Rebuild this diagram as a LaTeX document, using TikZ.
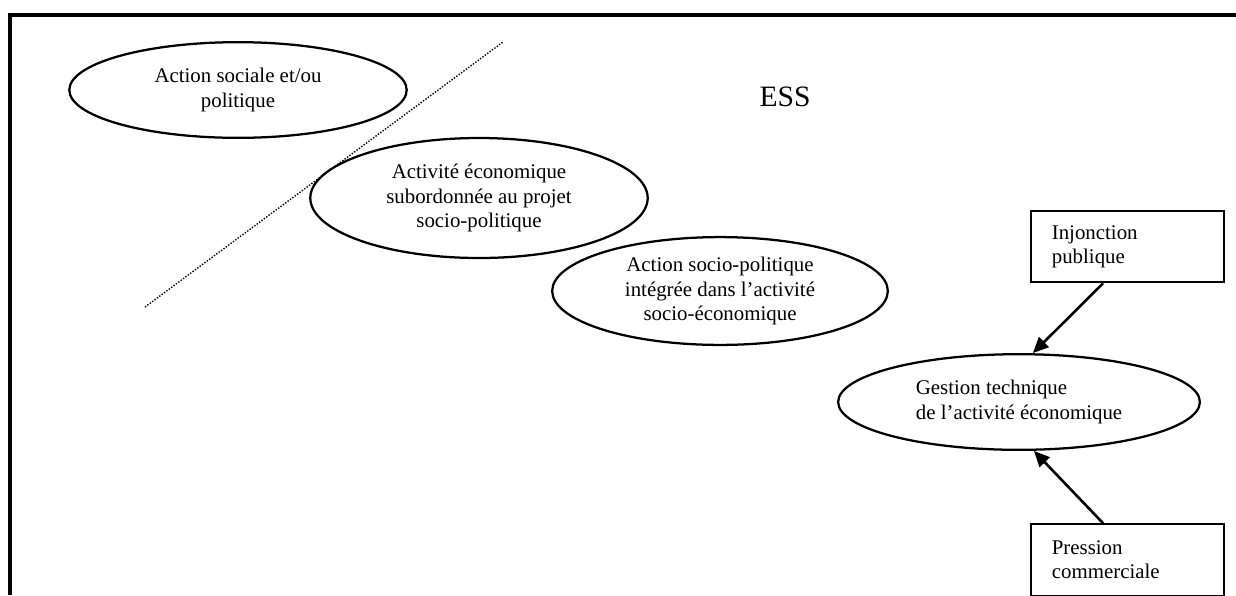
\documentclass[tikz,border=0pt]{standalone}
\usepackage{fontspec}
\setmainfont{Liberation Serif}
\usetikzlibrary{shapes.geometric,arrows.meta}
\tikzstyle{bulle}=[ellipse, draw, line width=1.3pt, align=center, inner sep=0pt]
\tikzstyle{cadre}=[rectangle, draw, line width=1.2pt, align=left, text width=87pt, inner xsep=12pt, minimum height=41pt]
\tikzstyle{fleche}=[-{Triangle[length=9pt,width=8pt]}, line width=1.5pt]

\begin{document}
\begin{tikzpicture}[x=0.575pt, y=-0.575pt, font=\fontsize{12}{14}\selectfont]
\useasboundingbox (0,0) rectangle (1236,595);
% Frame
    \draw[line width=2pt] (10,595) -- (10,15) -- (1236,15);
% Separation
    \coordinate (sepA) at (145,307);
    \coordinate (sepB) at (503,42);
    \draw[line width=0.8pt, dash pattern=on 0.8pt off 0.9pt] (sepA) -- (sepB);
% Title
    \node (ess) at (785,97) {\fontsize{17}{20}\selectfont ESS};
% Steps
    \node[bulle, minimum width=194pt, minimum height=55pt] (action) at (238,90) {Action sociale et/ou\\politique};
    \node[bulle, minimum width=194pt, minimum height=69pt] (activite) at (479,198) {Activité économique\\subordonnée au projet\\socio-politique};
    \node[bulle, minimum width=193pt, minimum height=62pt] (integree) at (720,291) {Action socio-politique\\intégrée dans l’activité\\socio-économique};
    \node[bulle, minimum width=208pt, minimum height=55pt, align=left] (gestion) at (1019,402) {Gestion technique\\de l’activité économique};
% Pressures
    \node[cadre] (injonction) at (1127.5,246.5) {Injonction\\publique};
    \node[cadre] (pression) at (1127.5,560) {Pression\\commerciale};
    \draw[fleche] ([xshift=-14pt]injonction.south) -- ([xshift=8pt]gestion.north);
    \draw[fleche] ([xshift=-14pt]pression.north) -- ([xshift=8.6pt]gestion.south);
\end{tikzpicture}
\end{document}
